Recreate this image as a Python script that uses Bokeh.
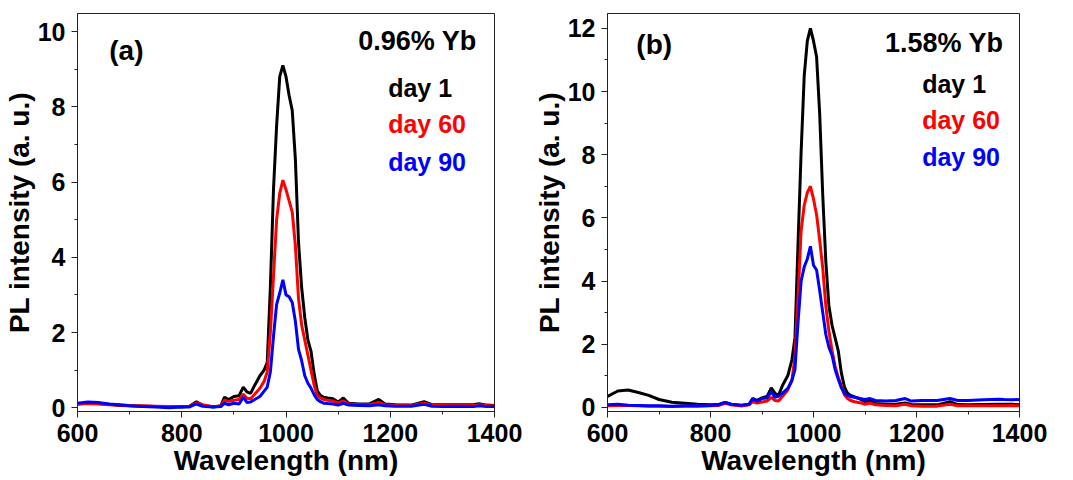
from bokeh.plotting import figure
from bokeh.models import SingleIntervalTicker, Label, Range1d
from bokeh.layouts import row
from bokeh.embed import file_html
from bokeh.resources import INLINE

wavelength = [600, 620, 640, 660, 680, 700, 725, 750, 775, 800, 815, 828, 840, 860, 875, 882, 890, 900, 910, 918,
              925, 932, 940, 950, 958, 964, 970, 976, 982, 988, 994, 1000, 1006, 1012, 1018, 1024, 1030, 1036, 1042,
              1048, 1054, 1060, 1066, 1072, 1080, 1090, 1100, 1110, 1120, 1140, 1160, 1178, 1190, 1210, 1240, 1265,
              1280, 1300, 1330, 1360, 1370, 1385, 1400]

a_day1 = [0.10, 0.12, 0.11, 0.09, 0.06, 0.05, 0.04, 0.03, 0.03, 0.02, 0.04, 0.16, 0.07, 0.02, 0.05, 0.28, 0.22, 0.30,
          0.32, 0.55, 0.42, 0.38, 0.60, 0.85, 1.0, 1.2, 3.2, 5.8, 7.5, 8.8, 9.1, 8.8, 8.3, 7.9, 6.6, 4.4, 3.2, 2.4,
          1.8, 1.5, 0.9, 0.45, 0.33, 0.28, 0.26, 0.24, 0.15, 0.26, 0.12, 0.10, 0.10, 0.22, 0.10, 0.08, 0.07, 0.16,
          0.08, 0.08, 0.08, 0.08, 0.11, 0.07, 0.06]
a_day60 = [0.10, 0.11, 0.10, 0.08, 0.07, 0.06, 0.05, 0.04, 0.03, 0.03, 0.04, 0.13, 0.08, 0.03, 0.04, 0.20, 0.17, 0.20,
           0.22, 0.36, 0.25, 0.24, 0.36, 0.52, 0.70, 0.95, 2.0, 3.5, 5.0, 5.7, 6.05, 5.8, 5.5, 5.2, 4.3, 2.9, 2.2, 1.8,
           1.4, 1.0, 0.6, 0.33, 0.26, 0.22, 0.20, 0.18, 0.12, 0.18, 0.10, 0.08, 0.08, 0.14, 0.08, 0.07, 0.06, 0.12,
           0.07, 0.06, 0.06, 0.06, 0.08, 0.06, 0.05]
a_day90 = [0.12, 0.15, 0.14, 0.10, 0.08, 0.05, 0.03, 0.02, 0.00, 0.02, 0.02, 0.10, 0.04, 0.02, 0.03, 0.12, 0.08, 0.12,
           0.10, 0.28, 0.14, 0.15, 0.22, 0.30, 0.44, 0.55, 0.95, 1.9, 2.75, 3.05, 3.4, 3.0, 2.95, 2.8, 2.3, 1.55, 1.25,
           0.85, 0.65, 0.52, 0.35, 0.22, 0.16, 0.12, 0.11, 0.10, 0.07, 0.12, 0.07, 0.06, 0.05, 0.08, 0.05, 0.04, 0.04,
           0.09, 0.04, 0.03, 0.04, 0.03, 0.05, 0.03, 0.03]

b_day1 = [0.35, 0.52, 0.55, 0.47, 0.38, 0.25, 0.16, 0.13, 0.10, 0.08, 0.09, 0.16, 0.10, 0.06, 0.10, 0.28, 0.22, 0.30,
          0.35, 0.62, 0.45, 0.38, 0.70, 1.0, 1.5, 2.2, 5.2, 8.1, 10.5, 11.6, 12.0, 11.6, 11.1, 9.3, 6.7, 4.6, 3.2, 2.6,
          2.2, 1.8, 1.1, 0.65, 0.45, 0.38, 0.33, 0.27, 0.18, 0.22, 0.12, 0.10, 0.10, 0.14, 0.09, 0.08, 0.08, 0.18,
          0.09, 0.08, 0.09, 0.10, 0.10, 0.10, 0.08]
b_day60 = [0.05, 0.06, 0.06, 0.05, 0.04, 0.04, 0.03, 0.04, 0.04, 0.05, 0.06, 0.13, 0.08, 0.04, 0.08, 0.18, 0.14, 0.17,
           0.20, 0.32, 0.22, 0.20, 0.35, 0.55, 0.85, 1.6, 3.5, 5.6, 6.4, 6.8, 7.0, 6.6, 6.1, 5.3, 4.4, 3.2, 2.4, 1.8,
           1.3, 0.95, 0.7, 0.4, 0.28, 0.22, 0.18, 0.15, 0.10, 0.14, 0.08, 0.06, 0.05, 0.10, 0.05, 0.04, 0.04, 0.10,
           0.05, 0.05, 0.05, 0.05, 0.05, 0.06, 0.05]
b_day90 = [0.08, 0.10, 0.07, 0.06, 0.05, 0.05, 0.04, 0.05, 0.05, 0.06, 0.08, 0.16, 0.10, 0.07, 0.10, 0.28, 0.20, 0.28,
           0.30, 0.50, 0.32, 0.35, 0.45, 0.60, 0.85, 1.2, 2.7, 4.0, 4.45, 4.7, 5.1, 4.5, 4.35, 3.7, 3.0, 2.3, 1.9, 1.65,
           1.2, 0.9, 0.62, 0.45, 0.38, 0.34, 0.32, 0.28, 0.25, 0.28, 0.22, 0.20, 0.22, 0.28, 0.20, 0.22, 0.22, 0.28,
           0.22, 0.22, 0.24, 0.26, 0.25, 0.24, 0.25]

series_labels = ["day 1", "day 60", "day 90"]
series_colors = ["#000000", "#ff0000", "#0000ff"]

FONT = "Liberation Sans"


def make_panel(width, ymax, ymin, border_left, border_right, ys, tag, sample, tag_xy, sample_xy, leg_x, leg_ys):
    p = figure(width=width, height=480, output_backend="svg", toolbar_location=None,
               x_range=Range1d(600, 1400), y_range=Range1d(ymin, ymax),
               min_border_left=border_left, min_border_right=border_right,
               min_border_top=13, min_border_bottom=69)
    p.background_fill_color = "white"
    p.border_fill_color = "white"
    p.outline_line_color = "#222222"
    p.outline_line_width = 1
    p.xgrid.visible = False
    p.ygrid.visible = False
    p.xaxis.ticker = SingleIntervalTicker(interval=200, num_minor_ticks=2)
    p.yaxis.ticker = SingleIntervalTicker(interval=2, num_minor_ticks=2)
    for ax in (p.xaxis[0], p.yaxis[0]):
        ax.axis_line_color = "#222222"
        ax.major_tick_line_color = "#222222"
        ax.minor_tick_line_color = "#222222"
        ax.major_tick_in = 0
        ax.major_tick_out = 6
        ax.minor_tick_in = 0
        ax.minor_tick_out = 3
        ax.major_label_text_font = FONT
        ax.major_label_text_font_style = "bold"
        ax.major_label_text_font_size = "25px"
        ax.major_label_text_color = "black"
        ax.axis_label_text_font = FONT
        ax.axis_label_text_font_style = "bold"
        ax.axis_label_text_font_size = "28px"
        ax.axis_label_text_color = "black"
    p.xaxis.axis_label = "Wavelength (nm)"
    p.yaxis.axis_label = "PL intensity (a. u.)"
    p.xaxis.major_label_standoff = 6
    p.xaxis.axis_label_standoff = 0
    p.yaxis.major_label_standoff = 6
    p.yaxis.axis_label_standoff = 0

    for y, c in zip(ys, series_colors):
        p.line(wavelength, y, line_color=c, line_width=3)

    p.add_layout(Label(x=tag_xy[0], y=tag_xy[1], text=tag, text_font=FONT, text_font_style="bold",
                       text_font_size="28px", text_baseline="middle", text_align="left", text_color="black"))
    p.add_layout(Label(x=sample_xy[0], y=sample_xy[1], text=sample, text_font=FONT, text_font_style="bold",
                       text_font_size="27px", text_baseline="middle", text_align="right", text_color="black"))
    for lab, c, ly in zip(series_labels, series_colors, leg_ys):
        p.add_layout(Label(x=leg_x, y=ly, text=lab, text_font=FONT, text_font_style="bold",
                           text_font_size="25px", text_baseline="middle", text_align="left", text_color=c))
    return p


pa = make_panel(530, 10.48, -0.1, 76, 36, [a_day1, a_day60, a_day90], "(a)", "0.96% Yb",
                (661, 9.5), (1366, 9.76), 1196, [8.51, 7.55, 6.52])
pb = make_panel(543, 12.47, -0.13, 74, 54, [b_day1, b_day60, b_day90], "(b)", "1.58% Yb",
                (656, 11.5), (1369, 11.55), 1211, [10.25, 9.11, 7.94])

layout = row(pa, pb)
open("out.html", "w").write(file_html(layout, INLINE))
